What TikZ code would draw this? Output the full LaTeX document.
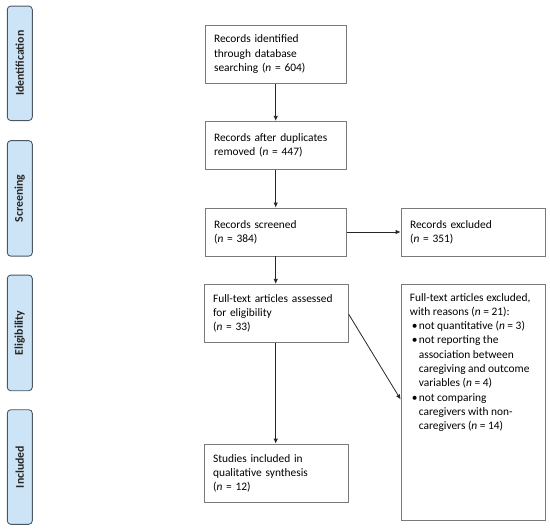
\documentclass[tikz,border=0pt]{standalone}
\usepackage{fontspec}
\setmainfont{Carlito}
\usetikzlibrary{arrows.meta}
\definecolor{stagefill}{HTML}{CCE4F6}
\definecolor{stageline}{HTML}{4A5866}
\definecolor{boxline}{HTML}{7A7A7A}
\begin{document}
\begin{tikzpicture}[x=1pt,y=-1pt,
  stage/.style={draw=stageline, fill=stagefill, rounded corners=3.5pt, line width=0.9pt,
    minimum width=25pt, anchor=center},
  stagetext/.style={rotate=90, font=\fontsize{11.8}{13}\selectfont\bfseries, text=black!85},
  box/.style={draw=boxline, line width=0.8pt, align=left, inner xsep=9pt, inner ysep=0pt,
    font=\fontsize{11.4}{14.3}\selectfont},
  arr/.style={draw=black!85, line width=0.8pt, -{Latex[length=5pt,width=4.5pt]}}]
\useasboundingbox (0,0) rectangle (550,530);
% stage labels
\node[stage, minimum height=114.5pt] (sid) at (19.8,63.3) {};
\node[stagetext] (sidt) at (sid.center) {Identification};
\node[stage, minimum height=115.5pt] (ssc) at (19.8,198.4) {};
\node[stagetext] (ssct) at (ssc.center) {Screening};
\node[stage, minimum height=115.7pt] (sel) at (19.8,332.9) {};
\node[stagetext] (selt) at (sel.center) {Eligibility};
\node[stage, minimum height=114.6pt] (sin) at (19.8,467.0) {};
\node[stagetext] (sint) at (sin.center) {Included};
% main boxes
\node[box, text width=123.3pt, minimum height=58pt] (b1) at (275.7,54.3)
  {Records identified\\through database\\searching (\textit{n} = 604)};
\node[box, text width=123.3pt, minimum height=48pt] (b2) at (275.7,145.3)
  {Records after duplicates\\removed (\textit{n} = 447)};
\node[box, text width=123.3pt, minimum height=48pt] (b3) at (275.7,232)
  {Records screened\\(\textit{n} = 384)};
\node[box, text width=126.3pt, minimum height=48pt] (ex1) at (473.2,232)
  {Records excluded\\(\textit{n} = 351)};
\node[box, text width=126.3pt, minimum height=58pt] (b4) at (276.2,313.3)
  {Full-text articles assessed\\for eligibility\\(\textit{n} = 33)};
\node[box, text width=126.3pt, minimum height=58.3pt] (b5) at (276.2,473.2)
  {Studies included in\\qualitative synthesis\\(\textit{n} = 12)};
\node[draw=boxline, line width=0.8pt, minimum width=144.3pt, minimum height=235.7pt, inner sep=0pt] (ex2) at (473.2,402.2) {};
\node[anchor=north west, align=left, inner sep=0pt, font=\fontsize{11.4}{14.3}\selectfont] (ex2t) at ([xshift=9pt,yshift=-9pt]ex2.north west)
  {Full-text articles excluded,\\
   with reasons (\textit{n} = 21):\\
   \hspace*{2pt}\makebox[7pt][l]{\textbullet}not quantitative (\textit{n} = 3)\\
   \hspace*{2pt}\makebox[7pt][l]{\textbullet}not reporting the\\
   \hspace*{9pt}association between\\
   \hspace*{9pt}caregiving and outcome\\
   \hspace*{9pt}variables (\textit{n} = 4)\\
   \hspace*{2pt}\makebox[7pt][l]{\textbullet}not comparing\\
   \hspace*{9pt}caregivers with non-\\
   \hspace*{9pt}caregivers (\textit{n} = 14)};
% connectors
\draw[arr] (b1.south) -- (b1.south |- b2.north);
\draw[arr] (b2.south) -- (b2.south |- b3.north);
\draw[arr] (b3.east) -- (ex1.west);
\draw[arr] (b3.south) -- (b3.south |- b4.north);
\draw[arr] (b3.south |- b4.south) -- (b3.south |- b5.north);
\coordinate (dstart) at ([yshift=-1pt]b4.east);
\coordinate (dend) at ([yshift=-115.5pt]ex2.north west);
\draw[arr] (dstart) -- (dend);
\end{tikzpicture}
\end{document}
